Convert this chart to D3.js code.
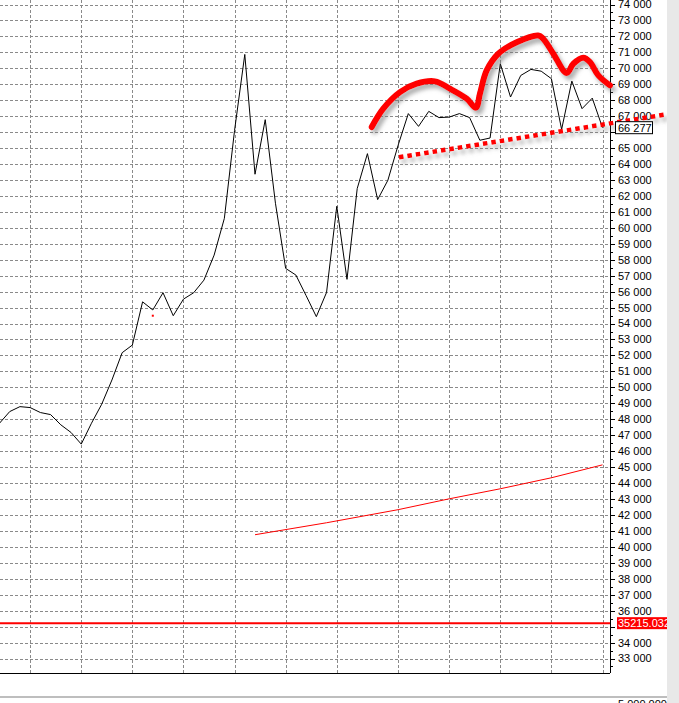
<!DOCTYPE html>
<html>
<head>
<meta charset="utf-8">
<script src="https://cdn.jsdelivr.net/npm/d3@7"></script>
<style>
  html, body { margin: 0; padding: 0; background: #fff; }
  svg { display: block; }
  text { font-family: "Liberation Sans", Arial, sans-serif; }
</style>
</head>
<body>
<script>
// ---- data ----
const price = [47750, 48480, 48790, 48730, 48420, 48290, 47650, 47170, 46440, 47750,
  48940, 50460, 52170, 52650, 55360, 54850, 55930, 54490, 55530, 55930,
  56720, 58290, 60590, 66110, 70870, 63360, 66780, 61540, 57455, 57040,
  55750, 54430, 55950, 61350, 56770, 62460, 64650, 61770, 62980, 65170,
  67160, 66360, 67300, 66910, 66940, 67160, 66910, 65490, 65630, 70290,
  68200, 69550, 69930, 69820, 69350, 66170, 69200, 67470, 68130, 66277];
const maLine = [[25, 40760], [32, 41510], [39, 42330], [44, 43010], [49, 43640], [54, 44330], [59, 45140]];
const redDots = [[15, 54490]];
const hLevel = 35215.032;
const lastPrice = 66277;
const gridIdx = [3, 8, 13, 18, 23, 28, 33, 39, 44, 49, 54, 59];
const yTicks = d3.range(33000, 74001, 1000);
const yMinor = d3.range(32500, 74501, 1000);
// hand-drawn annotations, in data units [index, value]
const handCurve = [[36.42, 66320], [37.55, 67470], [39.19, 68510], [40.82, 69035], [42.61, 69180],
  [44.08, 68722], [45.71, 68097], [46.62, 67533], [47.01, 68410], [47.67, 69868], [48.81, 70913],
  [50.61, 71639], [52.72, 72059], [53.21, 71852], [54.19, 70913], [55.50, 69699], [56.15, 70287],
  [57.12, 70663], [57.78, 70387], [58.59, 69555], [59.73, 68929]];
const trendLine = [[39.09, 64422], [66.49, 67239]];
const bottomLabel = "5 000 000";

// ---- layout ----
const W = 679, H = 703;
const axisX = 610, plotBottom = 673, stripX = 667;

const svg = d3.select("body").append("svg").attr("width", W).attr("height", H);
const defs = svg.append("defs");
const f = defs.append("filter").attr("id", "sh").attr("x", "-20%").attr("y", "-50%")
  .attr("width", "140%").attr("height", "200%");
f.append("feDropShadow").attr("dx", 3).attr("dy", 4).attr("stdDeviation", 2)
  .attr("flood-color", "#777").attr("flood-opacity", 0.6);

const x = d3.scaleLinear().domain([0, 59]).range([-0.5, 602.5]);
const y = d3.scaleLinear().domain([33000, 74000]).range([658.5, 4.5]);
const fmt = d => d3.format(",")(d).replace(/,/g, " ");

svg.append("rect").attr("width", W).attr("height", H).attr("fill", "#fff");

const grid = svg.append("g").attr("stroke", "#8a8a8a").attr("stroke-width", 1)
  .attr("stroke-dasharray", "3,2").attr("shape-rendering", "crispEdges");
grid.selectAll("line.h").data(yTicks).join("line")
  .attr("x1", 0).attr("x2", axisX).attr("y1", d => Math.round(y(d)) + 0.5).attr("y2", d => Math.round(y(d)) + 0.5);
grid.selectAll("line.v").data(gridIdx).join("line")
  .attr("y1", 0).attr("y2", plotBottom).attr("x1", d => Math.round(x(d)) + 0.5).attr("x2", d => Math.round(x(d)) + 0.5);

// horizontal level
svg.append("line").attr("x1", 0).attr("x2", axisX).attr("y1", y(hLevel)).attr("y2", y(hLevel))
  .attr("stroke", "#f00").attr("stroke-width", 2);

// moving average (thin red)
svg.append("path").datum(maLine)
  .attr("d", d3.line().x(d => x(d[0])).y(d => y(d[1])))
  .attr("fill", "none").attr("stroke", "#f00").attr("stroke-width", 1);

// price line
svg.append("path").datum(price)
  .attr("d", d3.line().x((d, i) => x(i)).y(d => y(d)))
  .attr("fill", "none").attr("stroke", "#000").attr("stroke-width", 1);

svg.selectAll("rect.dot").data(redDots).join("rect")
  .attr("x", d => x(d[0]) - 1).attr("y", d => y(d[1]) - 1).attr("width", 2).attr("height", 2).attr("fill", "#f00");

// bottom lines
svg.append("line").attr("x1", 0).attr("x2", axisX).attr("y1", plotBottom + 0.5).attr("y2", plotBottom + 0.5)
  .attr("stroke", "#000");
svg.append("line").attr("x1", 0).attr("x2", stripX).attr("y1", 697).attr("y2", 697)
  .attr("stroke", "#a8a8a8").attr("stroke-width", 1.5);
svg.append("text").attr("x", 618).attr("y", 708).attr("font-size", 11).text(bottomLabel);

// right axis
const ax = svg.append("g").attr("shape-rendering", "crispEdges");
ax.append("line").attr("x1", axisX + 0.5).attr("x2", axisX + 0.5).attr("y1", 0).attr("y2", plotBottom)
  .attr("stroke", "#000");
ax.selectAll("line.maj").data(yTicks).join("line")
  .attr("x1", axisX).attr("x2", axisX + 5).attr("y1", d => Math.round(y(d)) + 0.5).attr("y2", d => Math.round(y(d)) + 0.5)
  .attr("stroke", "#000");
ax.selectAll("line.min").data(yMinor).join("line")
  .attr("x1", axisX).attr("x2", axisX + 3).attr("y1", d => Math.round(y(d)) + 0.5).attr("y2", d => Math.round(y(d)) + 0.5)
  .attr("stroke", "#000");
// labels fully hidden under the value boxes are not drawn
const hidden = v => Math.abs(y(v) - y(lastPrice)) < 8 || Math.abs(y(v) - y(hLevel)) < 8;
svg.append("g").selectAll("text").data(yTicks.filter(v => !hidden(v))).join("text")
  .attr("x", 618).attr("y", d => y(d)).attr("dy", "0.36em").attr("font-size", 11)
  .text(fmt);

// hand-drawn annotations
svg.append("path").datum(handCurve)
  .attr("d", d3.line().x(d => x(d[0])).y(d => y(d[1])).curve(d3.curveCatmullRom.alpha(0.5)))
  .attr("fill", "none").attr("stroke", "#f00").attr("stroke-width", 6)
  .attr("stroke-linejoin", "round").attr("stroke-linecap", "round").attr("filter", "url(#sh)");
svg.append("path").datum(trendLine)
  .attr("d", d3.line().x(d => x(d[0])).y(d => y(d[1])))
  .attr("fill", "none").attr("stroke", "#f00").attr("stroke-width", 4.5)
  .attr("stroke-dasharray", "4.5,4").attr("filter", "url(#sh)");

// last price label
const lp = svg.append("g");
lp.append("rect").attr("x", 615.5).attr("y", y(lastPrice) - 6).attr("width", 37).attr("height", 12)
  .attr("fill", "#fff").attr("stroke", "#000");
lp.append("text").attr("x", 618).attr("y", y(lastPrice)).attr("dy", "0.36em").attr("font-size", 11).text(fmt(lastPrice));

// level label
const ll = svg.append("g");
ll.append("rect").attr("x", 617).attr("y", y(hLevel) - 6).attr("width", 55).attr("height", 12).attr("fill", "#f00");
ll.append("text").attr("x", 618).attr("y", y(hLevel)).attr("dy", "0.36em").attr("font-size", 11)
  .attr("fill", "#fff").text(hLevel.toFixed(3));

// right grey strip
svg.append("rect").attr("x", stripX).attr("y", 0).attr("width", W - stripX).attr("height", H).attr("fill", "#e8e8e8");
</script>
</body>
</html>
